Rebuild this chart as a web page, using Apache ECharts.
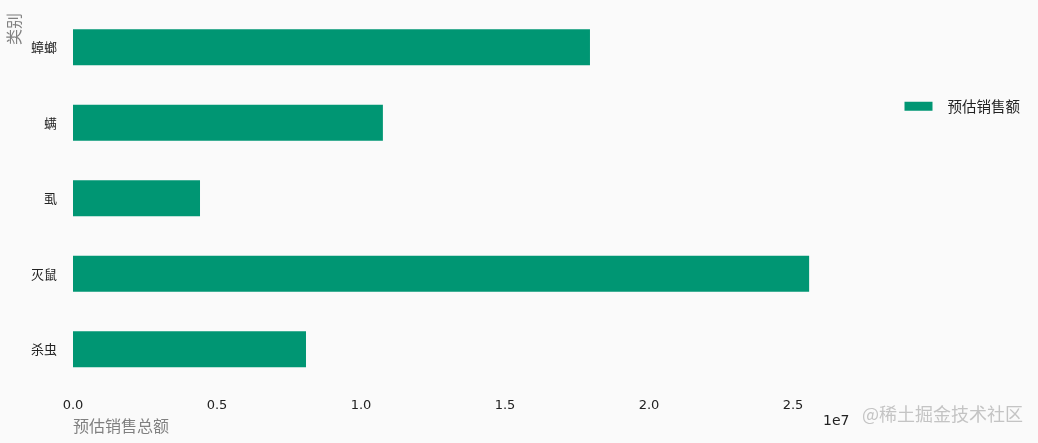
<!DOCTYPE html>
<html>
<head>
<meta charset="utf-8">
<script src="https://cdn.jsdelivr.net/npm/echarts@6/dist/echarts.min.js"></script>
<style>
html,body{margin:0;padding:0;background:#fafafa;}
#chart{width:1038px;height:443px;}
</style>
</head>
<body>
<div id="chart"></div>
<script>
const categories = ['杀虫', '灭鼠', '虱', '螨', '蟑螂'];
const salesValues = [8090000, 25560000, 4410000, 10760000, 17950000];
const xTicks = [0, 5000000, 10000000, 15000000, 20000000, 25000000];
const seriesName = '预估销售额';

const chart = echarts.init(document.getElementById('chart'), null, {renderer: 'canvas'});
const font = '"Noto Sans CJK SC", "DejaVu Sans", sans-serif';
chart.setOption({
  backgroundColor: '#fafafa',
  animation: false,
  grid: {left: 73, right: 1038 - 846, top: 9.5, bottom: 443 - 387, containLabel: false, outerBoundsMode: 'none'},
  legend: {
    data: [seriesName],
    right: 13, top: 94,
    itemWidth: 28, itemHeight: 9,
    icon: 'rect',
    textStyle: {fontSize: 14.5, color: '#222', fontFamily: font, padding: [0, 0, 0, 10]}
  },
  xAxis: {
    type: 'value', min: 0, max: 26840000, interval: xTicks[1] - xTicks[0],
    axisLine: {show: false}, axisTick: {show: false}, splitLine: {show: false},
    axisLabel: {
      showMaxLabel: false, margin: 12, fontSize: 13, color: '#222', fontFamily: '"DejaVu Sans", sans-serif',
      formatter: v => (v / 1e7).toFixed(1)
    },
    name: '预估销售总额', nameLocation: 'start', nameGap: 0,
    nameTextStyle: {fontSize: 16, color: '#808080', fontFamily: font, align: 'left', verticalAlign: 'top', padding: [31, 0, 0, 0]}
  },
  yAxis: {
    type: 'category', data: categories,
    axisLine: {show: false}, axisTick: {show: false}, splitLine: {show: false},
    axisLabel: {margin: 16, fontSize: 13, color: '#222', fontFamily: font}
  },
  graphic: [
    {type: 'text', x: 6, y: 45, rotation: Math.PI / 2, style: {text: '类别', fontSize: 16, fill: '#808080', fontFamily: font}},
    {type: 'text', left: 823, top: 414, style: {text: '1e7', fontSize: 14, fill: '#222', fontFamily: '"DejaVu Sans", sans-serif'}},
    {type: 'text', left: 862, top: 405, style: {text: '@稀土掘金技术社区', fontSize: 18, fill: '#c4c4c4', fontFamily: font}}
  ],
  series: [{
    name: seriesName, type: 'bar', data: salesValues,
    barWidth: 36,
    itemStyle: {color: '#009673'}
  }]
});
</script>
</body>
</html>
